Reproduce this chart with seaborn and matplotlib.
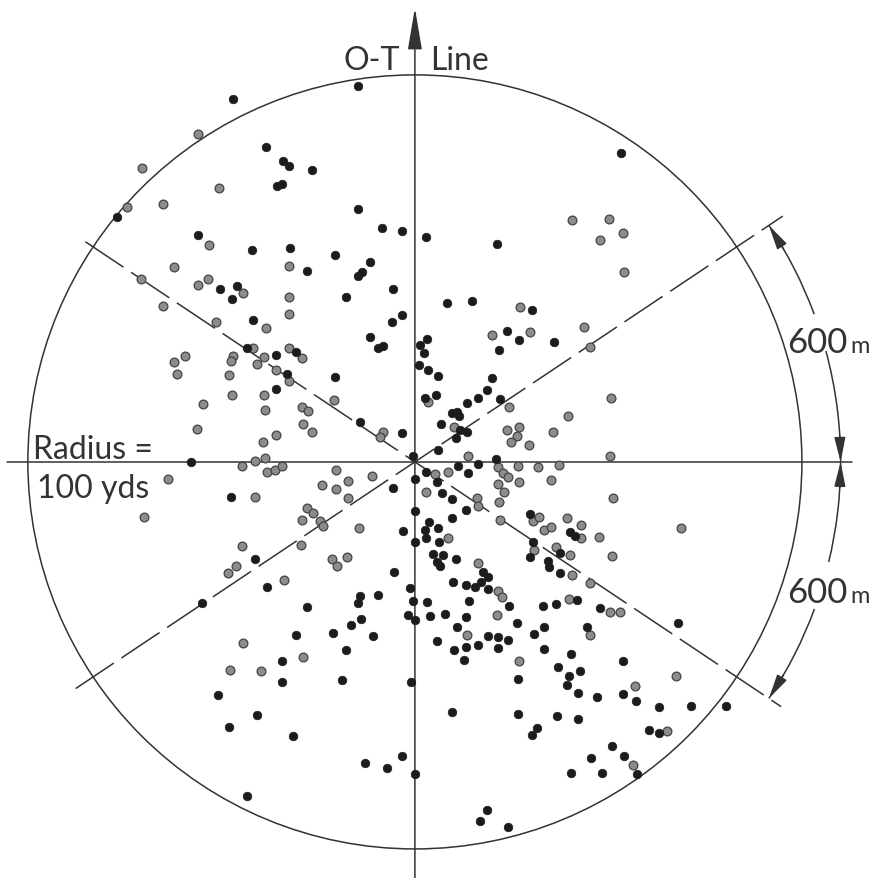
import numpy as np
import pandas as pd
import matplotlib
matplotlib.use('Agg')
import matplotlib.pyplot as plt
from matplotlib.patches import Circle, Arc
import seaborn as sns

# impact points, yards from the aim point (x across, y along the O-T line)
black_x = [-14.7, -47.0, -38.5, -34.1, -32.6, -26.6, -35.7, -34.4, -14.7, -8.5,
           -3.4, -56.1, -42.1, -32.3, -20.7, -27.9, -11.6, -14.7, -13.7, -50.4,
           -46.0, -47.3, -17.8, -5.7, -41.9, -5.9, -3.4, -11.6, -9.6, -8.3,
           -43.4, -35.9, -30.7, -33.1, -20.7, -35.9, -14.2, -3.4, -0.5, -77.0,
           -57.9, 53.2, 21.2, 2.8, 8.3, 14.7, 30.2, 23.8, 26.9, 35.9,
           21.7, 3.1, 1.3, 2.3, 1.0, 3.4, 5.9, 19.9, 18.6, 16.3,
           13.4, 22.0, 2.6, 5.4, 9.6, 10.9, 11.4, 6.7, 11.6, 13.4,
           10.6, 5.9, 20.9, 11.1, 16.3, 2.8, 13.7, 0.0, 5.7, -5.7,
           7.0, 9.6, 0.0, 13.2, 9.6, -3.1, 3.6, 5.9, 2.6, 2.8,
           6.2, 0.0, 29.7, 40.1, 41.3, 30.5, 29.7, 37.5, 4.7, 5.7,
           6.5, 7.2, 10.6, 34.4, 34.6, 37.5, 17.6, -5.4, 18.9, 9.8,
           13.2, 15.5, 17.1, 18.9, -1.3, -0.5, 3.1, 14.0, 24.3, 33.1,
           36.4, 41.9, 47.8, -1.8, 0.0, 3.9, 7.8, 13.2, 26.4, 10.9,
           33.3, 30.7, 44.4, 18.9, 21.4, 24.0, 5.7, 10.1, 13.2, 16.3,
           21.4, 33.3, 40.3, 12.7, 37.0, 42.6, 39.8, 39.3, 26.6, -1.0,
           42.1, 47.0, 68.0, 53.7, 53.7, 57.1, 63.0, 71.3, 80.4, 9.6,
           26.6, 36.7, 42.1, 31.5, 30.2, 60.5, 63.0, 50.9, 45.5, 54.0,
           57.4, 40.3, 48.3, 0.0, -3.4, 18.6, 16.8, 24.0, -47.5, -41.3,
           -38.2, -9.6, -14.2, -14.7, -55.0, -27.9, -14.0, -16.5, -21.2, -10.9,
           -30.7, -17.8, -34.4, -34.4, -18.9, -50.9, -40.8, -48.1, -31.5, -12.9,
           -7.2, -43.4]
black_y = [97.2, 93.8, 81.4, 77.8, 76.5, 75.5, 71.3, 71.8, 65.4, 60.5,
           59.7, 58.7, 54.8, 55.3, 53.5, 49.4, 51.7, 48.1, 49.1, 44.7,
           45.5, 42.1, 42.6, 44.7, 36.7, 36.2, 38.0, 32.3, 29.5, 30.0,
           29.5, 27.6, 28.4, 22.7, 22.0, 18.9, 10.3, 7.5, 1.6, 63.3,
           0.0, 79.8, 56.3, 58.1, 41.1, 41.6, 39.3, 33.9, 31.5, 31.0,
           28.9, 31.8, 30.2, 28.2, 25.1, 23.8, 22.2, 21.7, 18.6, 16.5,
           15.2, 16.3, 16.5, 17.3, 12.7, 12.9, 11.9, 9.8, 8.3, 7.8,
           6.2, 3.1, 0.8, -1.0, -0.5, -2.6, -2.8, -4.4, -5.2, -6.7,
           -8.0, -9.6, -12.7, -12.4, -14.5, -17.8, -15.5, -17.1, -17.6, -19.6,
           -20.7, -20.7, -13.4, -18.1, -19.1, -20.7, -24.5, -23.5, -23.8, -25.8,
           -26.9, -24.0, -25.1, -25.6, -27.1, -28.7, -28.4, -28.4, -29.7, -31.0,
           -31.8, -32.3, -31.0, -32.8, -32.6, -35.9, -36.2, -35.9, -37.2, -37.2,
           -36.7, -35.7, -37.7, -39.5, -40.8, -39.8, -39.3, -40.1, -41.6, -42.6,
           -42.6, -44.4, -42.6, -45.0, -45.2, -46.0, -46.3, -48.6, -47.8, -47.3,
           -48.1, -48.3, -49.6, -51.2, -53.0, -54.0, -55.3, -57.6, -56.1, -56.8,
           -59.7, -60.7, -41.6, -51.4, -59.9, -61.8, -63.3, -63.0, -63.0, -64.6,
           -65.1, -65.6, -66.4, -68.7, -70.5, -69.3, -70.0, -73.4, -76.5, -76.0,
           -80.6, -80.4, -80.4, -80.6, -76.0, -89.9, -92.8, -94.3, -9.0, -25.1,
           -32.3, -34.4, -34.6, -36.4, -36.4, -37.5, -40.6, -42.1, -44.2, -45.0,
           -44.7, -48.6, -51.4, -56.8, -56.3, -60.2, -65.4, -68.5, -70.8, -77.8,
           -79.1, -86.3]

grey_x = [-56.1, -70.5, -74.4, -65.1, -50.6, -53.2, -32.6, -62.3, -70.8, -56.1,
          -53.5, -44.4, -32.6, -65.1, -51.4, -38.5, -32.6, -41.9, -47.0, -47.5,
          -39.0, -40.8, -32.6, -29.2, -59.4, -62.3, -61.5, -48.1, -35.9, -32.6,
          -47.3, -39.0, -38.8, -54.8, -29.2, -27.6, -20.9, -28.9, -26.6, -56.3,
          -8.3, -9.0, -35.9, -39.3, -44.7, -41.3, -38.8, 40.6, 50.1, 47.8,
          53.7, 54.0, 27.1, 19.9, 29.7, 43.7, 45.2, 3.4, 24.3, 10.1,
          23.8, 26.9, 26.4, 24.8, 29.5, 35.7, 39.5, 50.6, 13.7, 50.4,
          21.4, 26.6, 31.8, 37.2, 5.2, 8.5, 22.7, 24.0, 26.9, 35.1,
          2.8, 21.4, 23.0, 16.0, 16.3, 21.7, 51.2, 22.0, 8.5, 30.5,
          32.0, 33.3, 35.1, 39.3, 42.9, 42.9, 47.5, 50.9, 68.7, 30.7,
          36.4, 40.1, 16.3, 40.6, 45.2, 21.4, 22.5, 39.8, 50.4, 53.0,
          21.2, 13.4, 45.2, 26.9, 67.4, 56.8, 65.1, 56.3, -63.8, -70.0,
          -41.3, -38.2, -36.2, -34.4, -20.4, -24.0, -20.4, -17.3, -17.3, -11.1,
          -27.9, -26.4, -24.5, -23.8, -29.2, -14.5, -44.7, -29.5, -48.3, -46.3,
          -21.4, -20.2, -17.6, -33.9, -44.4, -28.9, -47.8, -39.8]
grey_y = [84.8, 76.0, 65.9, 66.7, 70.8, 56.1, 50.6, 50.4, 47.3, 45.7,
          47.3, 43.7, 42.6, 40.3, 36.2, 34.6, 38.2, 29.5, 27.4, 26.1,
          27.1, 25.3, 29.5, 26.9, 27.4, 25.8, 22.7, 22.5, 23.8, 20.9,
          17.3, 17.3, 13.4, 15.0, 14.2, 13.2, 16.0, 9.8, 7.8, 8.5,
          7.8, 6.5, 7.0, 5.2, -1.0, 0.3, 1.0, 62.5, 62.8, 57.4,
          59.2, 49.1, 40.1, 32.8, 33.6, 34.9, 29.7, 15.5, 14.2, 9.0,
          8.3, 9.0, 6.7, 5.2, 4.4, 7.8, 11.9, 16.5, 1.6, 1.6,
          -1.3, -1.0, -1.3, -0.8, -3.1, -2.6, -2.8, -3.9, -5.2, -4.7,
          -7.8, -5.7, -7.8, -9.3, -11.4, -10.3, -9.3, -15.0, -19.6, -15.2,
          -14.2, -17.6, -16.8, -14.5, -16.3, -19.6, -19.4, -24.3, -17.1, -22.7,
          -22.0, -24.0, -26.1, -29.2, -31.3, -33.3, -34.9, -35.4, -38.8, -38.8,
          -39.5, -44.7, -44.7, -51.4, -55.3, -57.9, -69.5, -78.3, -4.4, -14.2,
          -9.0, -2.6, -2.1, -1.0, -2.1, -5.9, -7.0, -4.9, -9.3, -3.6,
          -11.9, -13.2, -15.2, -16.5, -15.0, -17.1, -21.7, -21.4, -28.7, -26.9,
          -25.1, -26.9, -24.5, -30.5, -46.8, -50.4, -53.7, -54.0]

radius = 100
sector_deg = 33.75   # 600 mils either side of the O-T line
dim_radius = 110
dim_label = '600'

black = pd.DataFrame({'x': black_x, 'y': black_y})
grey = pd.DataFrame({'x': grey_x, 'y': grey_y})

sns.set_theme(style='white')
plt.rcParams['font.family'] = ['Lato', 'DejaVu Sans']
ink = '#333333'

fig = plt.figure(figsize=(8.77, 8.79), dpi=100)
ax = fig.add_axes([0, 0, 1, 1])
ax.set_xlim(-107.2, 119.4)
ax.set_ylim(-107.5, 119.6)
ax.set_aspect('equal')
ax.axis('off')

ax.add_patch(Circle((0, 0), radius, fill=False, lw=1.1, ec=ink))
ax.plot([-105.4, 112.9], [0, 0], color=ink, lw=1.1)
ax.annotate('', xy=(0, 117.3), xytext=(0, -108),
            arrowprops=dict(arrowstyle='-|>,head_length=1.3,head_width=0.22',
                            mutation_scale=20, lw=1.1, color=ink, shrinkA=0, shrinkB=0))

for ang, r0, r1 in [(sector_deg, -105.4, 114.3), (-sector_deg, -102.4, 113.8)]:
    c, s = np.cos(np.radians(ang)), np.sin(np.radians(ang))
    ln, = ax.plot([r0 * c, r1 * c], [r0 * s, r1 * s], color=ink, lw=1.1)
    ln.set_dashes((30, 6))

for t1, t2 in [(20.3, sector_deg), (0, 15.1), (-13.6, 0), (-sector_deg, -20.2)]:
    ax.add_patch(Arc((0, 0), 2 * dim_radius, 2 * dim_radius, theta1=t1, theta2=t2, lw=1.1, color=ink))

for tip, tail in [(sector_deg, 30), (0, 3.5), (0, -3.5), (-sector_deg, -30)]:
    ax.annotate('', xy=(dim_radius * np.cos(np.radians(tip)), dim_radius * np.sin(np.radians(tip))),
                xytext=(dim_radius * np.cos(np.radians(tail)), dim_radius * np.sin(np.radians(tail))),
                arrowprops=dict(arrowstyle='-|>,head_length=0.75,head_width=0.17',
                                mutation_scale=20, lw=1.1, color=ink, shrinkA=0, shrinkB=0))

sns.scatterplot(data=grey, x='x', y='y', ax=ax, s=40, color='#8c8c8c',
                edgecolor='#444444', linewidth=0.9, zorder=3)
sns.scatterplot(data=black, x='x', y='y', ax=ax, s=38, color='#1c1c1c',
                edgecolor='#1c1c1c', linewidth=0.5, zorder=4)

txt = dict(color=ink, fontsize=23, fontweight='normal')
ax.text(-3.9, 101.6, 'O-T', ha='right', va='baseline', **txt)
ax.text(3.9, 101.6, 'Line', ha='left', va='baseline', **txt)
ax.text(-98.7, 1.0, 'Radius =', ha='left', va='baseline', **txt)
ax.text(-97.7, -9.0, '100 yds', ha='left', va='baseline', **txt)
for yy in [28.3, -36.3]:
    ax.text(96.1, yy, dim_label, ha='left', va='baseline', color=ink, fontsize=25)
    ax.text(112.4, yy, 'm', ha='left', va='baseline', color=ink, fontsize=17)

ax.set_xlabel('')
ax.set_ylabel('')
fig.savefig('out.png', dpi=100)
